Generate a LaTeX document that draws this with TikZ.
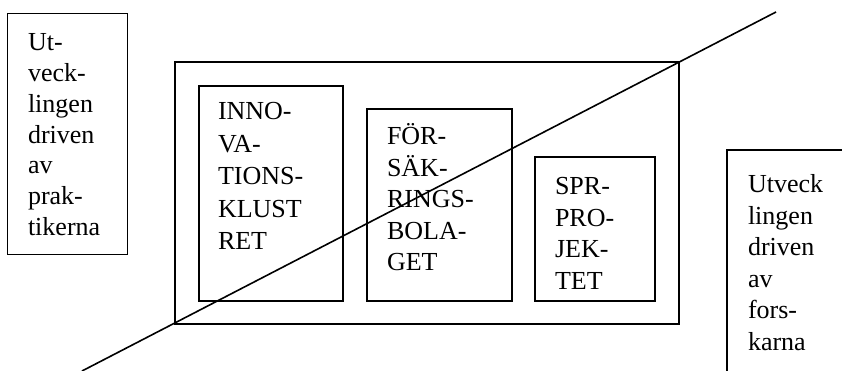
\documentclass[tikz,border=0pt]{standalone}
\usepackage{fontspec}
\setmainfont{Liberation Serif}
\begin{document}
\begin{tikzpicture}[x=1pt,y=1pt,
  thinbox/.style={draw,line width=0.9pt,inner sep=0pt,outer sep=0pt,anchor=north west},
  thickbox/.style={draw,line width=1.7pt,inner sep=0pt,outer sep=0pt,anchor=north west},
  lbl/.style={inner sep=0pt,outer sep=0pt,anchor=base west,font=\fontsize{26}{31.5}\selectfont}
]
\useasboundingbox (0,0) rectangle (842,371);
\clip (0,0) rectangle (842,371);
% boxes
\node[thinbox,minimum width=120pt,minimum height=241pt] (leftbox) at (7,358) {};
\node[thickbox,minimum width=504pt,minimum height=262pt] (bigbox) at (175,309) {};
\node[thickbox,minimum width=144pt,minimum height=215pt] (inno) at (199,285) {};
\node[thickbox,minimum width=145pt,minimum height=192pt] (forbox) at (367,262) {};
\node[thickbox,minimum width=120pt,minimum height=144pt] (spr) at (535,214) {};
\node[draw,line width=1.5pt,inner sep=0pt,outer sep=0pt,anchor=north west,minimum width=140pt,minimum height=260pt] (rightbox) at (727,221) {};
% labels
\node[lbl,font=\fontsize{26}{30.7}\selectfont] (leftlbl) at (28,320) {\parbox[t]{100pt}{\raggedright Ut-\\veck-\\lingen\\driven\\av\\prak-\\tikerna}};
\node[lbl,font=\fontsize{26}{32.5}\selectfont] (innolbl) at (218,251) {\parbox[t]{120pt}{\raggedright INNO-\\VA-\\TIONS-\\KLUST\\RET}};
\node[lbl] (forlbl) at (387,226) {\parbox[t]{120pt}{\raggedright FÖR-\\SÄK-\\RINGS-\\BOLA-\\GET}};
\node[lbl] (sprlbl) at (555,176) {\parbox[t]{100pt}{\raggedright SPR-\\PRO-\\JEK-\\TET}};
\node[lbl] (rightlbl) at (748,178) {\parbox[t]{100pt}{\raggedright Utveck\\lingen\\driven\\av\\fors-\\karna}};
% diagonal
\coordinate (diagA) at (82,0);
\coordinate (diagB) at (776,359);
\draw[line width=1.6pt] (diagA) -- (diagB);
\end{tikzpicture}
\end{document}
